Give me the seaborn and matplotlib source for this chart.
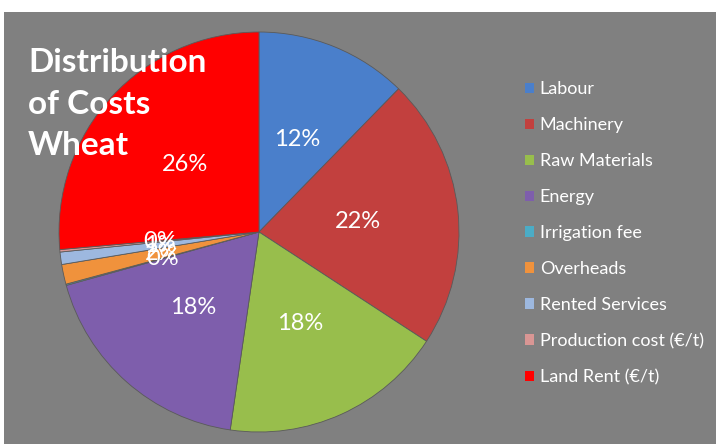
import matplotlib
matplotlib.use("Agg")
import matplotlib.pyplot as plt
import seaborn as sns
from matplotlib.patches import Rectangle, Patch

categories = ["Labour", "Machinery", "Raw Materials", "Energy", "Irrigation fee",
              "Overheads", "Rented Services", "Production cost (€/t)", "Land Rent (€/t)"]
values = [12.3, 21.9, 18.1, 18.4, 0.1, 1.6, 1.0, 0.2, 26.4]
colors = ["#4A7FCB", "#C2403E", "#98BE4C", "#7E5EAC", "#4BACC6",
          "#F0923C", "#9DB8DF", "#D99694", "#FF0000"]
title_lines = ["Distribution", "of Costs", "Wheat"]

sns.set_theme(style="white")
plt.rcParams['font.family'] = ['Lato', 'DejaVu Sans']

W, H = 718, 444
fig = plt.figure(figsize=(W / 100, H / 100), dpi=100, facecolor="white")
fig.patches.append(Rectangle((4 / W, 0), 1 - 6 / W, (H - 12) / H, transform=fig.transFigure,
                             facecolor="#808080", edgecolor="none", zorder=-10))

cx, cy, r = 259, 232, 200
ax = fig.add_axes([(cx - r) / W, (H - cy - r) / H, 2 * r / W, 2 * r / H])
ax.set_facecolor("none")
palette = sns.color_palette(colors)
wedges, texts, autotexts = ax.pie(values, colors=palette, startangle=90, counterclock=False,
                                  autopct="%.0f%%", pctdistance=0.5, radius=1,
                                  wedgeprops=dict(edgecolor="#5a5a5a", linewidth=0.6),
                                  textprops=dict(color="white", fontsize=17))
ax.set_xlim(-1.0, 1.0)
ax.set_ylim(-1.0, 1.0)
ax.set_aspect("equal")
ax.axis("off")

for i, line in enumerate(title_lines):
    fig.text(28 / W, 1 - (72 + 41.5 * i) / H, line, color="white", fontsize=24,
             fontweight="bold", va="baseline", ha="left")

handles = [Patch(facecolor=c, edgecolor="none") for c in palette]
leg = fig.legend(handles, categories, loc="upper left", bbox_to_anchor=(509 / W, 1 - 65 / H),
                 frameon=False, fontsize=13, labelcolor="white", handlelength=0.5,
                 handleheight=0.5, handletextpad=0.3, labelspacing=1.105)

fig.savefig("out.png", dpi=100, facecolor="white")
